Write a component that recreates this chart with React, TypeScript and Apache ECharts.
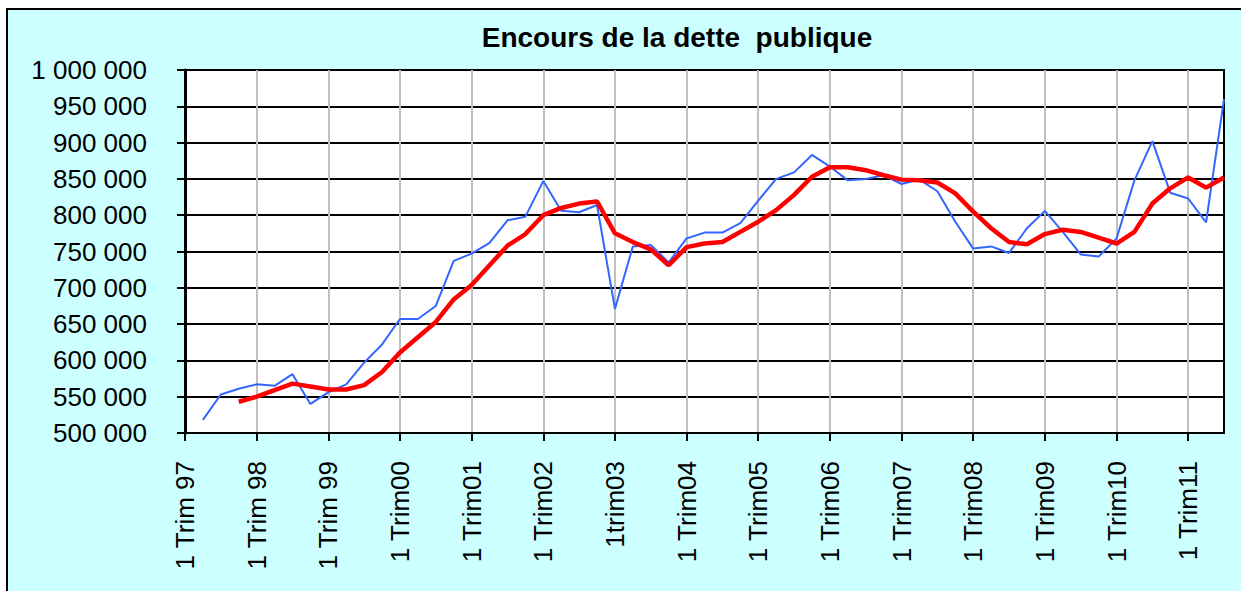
import React, { useEffect, useRef } from "react";
import * as echarts from "echarts";

const TITLE = "Encours de la dette  publique";

const categories: string[] = [
  "1 Trim 97", "2 Trim 97", "3 Trim 97", "4 Trim 97",
  "1 Trim 98", "2 Trim 98", "3 Trim 98", "4 Trim 98",
  "1 Trim 99", "2 Trim 99", "3 Trim 99", "4 Trim 99",
  "1 Trim00", "2 Trim00", "3 Trim00", "4 Trim00",
  "1 Trim01", "2 Trim01", "3 Trim01", "4 Trim01",
  "1 Trim02", "2 Trim02", "3 Trim02", "4 Trim02",
  "1trim03", "2trim03", "3trim03", "4trim03",
  "1 Trim04", "2 Trim04", "3 Trim04", "4 Trim04",
  "1 Trim05", "2 Trim05", "3 Trim05", "4 Trim05",
  "1 Trim06", "2 Trim06", "3 Trim06", "4 Trim06",
  "1 Trim07", "2 Trim07", "3 Trim07", "4 Trim07",
  "1 Trim08", "2 Trim08", "3 Trim08", "4 Trim08",
  "1 Trim09", "2 Trim09", "3 Trim09", "4 Trim09",
  "1 Trim10", "2 Trim10", "3 Trim10", "4 Trim10",
  "1 Trim11", "2 Trim11", "3 Trim11",
];

const encours: (number | null)[] = [
  null, 518000, 553000, 561000,
  567000, 565000, 581000, 540000,
  556000, 567000, 597000, 622000,
  657000, 657000, 675000, 737000,
  747000, 762000, 793000, 798000,
  847000, 806000, 804000, 814000,
  671000, 757000, 759000, 735000,
  768000, 776000, 776000, 789000,
  820000, 850000, 859000, 883000,
  867000, 848000, 850000, 855000,
  843000, 849000, 833000, 791000,
  754000, 757000, 748000, 782000,
  806000, 777000, 746000, 743000,
  768000, 848000, 902000, 831000,
  823000, 790000, 960000,
];

const moyenneMobile: (number | null)[] = [
  null, null, null, 543000,
  550000, 559000, 568000, 564000,
  560000, 560000, 566000, 584000,
  611000, 632000, 653000, 684000,
  704000, 731000, 758000, 774000,
  800000, 810000, 816000, 819000,
  775000, 763000, 753000, 731000,
  756000, 761000, 763000, 777000,
  791000, 807000, 828000, 853000,
  866000, 866000, 862000, 855000,
  849000, 848000, 845000, 830000,
  805000, 782000, 763000, 760000,
  774000, 780000, 777000, 769000,
  761000, 777000, 816000, 837000,
  852000, 838000, 852000,
];

const Y_MIN = 500000;
const Y_MAX = 1000000;
const Y_STEP = 50000;

const fmt = (v: number) => String(v).replace(/\B(?=(\d{3})+(?!\d))/g, " ");
const everyYear = (i: number) => i % 4 === 0;

export default function App() {
  const ref = useRef<HTMLDivElement>(null);
  useEffect(() => {
    if (!ref.current) return;
    const chart = echarts.init(ref.current, null, { renderer: "svg" });
    chart.setOption({
      animation: false,
      backgroundColor: "#ffffff",
      textStyle: { fontFamily: "Liberation Sans, Arial, sans-serif" },
      graphic: [
        {
          type: "rect",
          z: -10,
          silent: true,
          shape: { x: 7, y: 9, width: 1260, height: 620 },
          style: { fill: "#CCFFFF", stroke: "#000000", lineWidth: 2 },
        },
      ],
      title: {
        text: TITLE,
        left: 677,
        top: 23,
        padding: 0,
        textAlign: "center",
        textStyle: {
          fontFamily: "Liberation Sans, Arial, sans-serif",
          fontSize: 28,
          fontWeight: "bold",
          color: "#000000",
        },
      },
      grid: {
        left: 185,
        right: 17,
        top: 70,
        bottom: 158,
        show: true,
        backgroundColor: "#ffffff",
        borderColor: "#000000",
        borderWidth: 2,
      },
      xAxis: {
        type: "category",
        data: categories,
        boundaryGap: false,
        axisLine: { lineStyle: { color: "#000000", width: 2 } },
        axisTick: { show: true, length: 8, interval: everyYear, lineStyle: { color: "#000000", width: 2 } },
        axisLabel: {
          interval: everyYear,
          rotate: 90,
          margin: 28,
          color: "#000000",
          fontSize: 26,
          fontFamily: "Liberation Sans, Arial, sans-serif",
        },
        splitLine: { show: true, interval: everyYear, lineStyle: { color: "#C0C0C0", width: 2 } },
      },
      yAxis: {
        type: "value",
        min: Y_MIN,
        max: Y_MAX,
        interval: Y_STEP,
        axisLine: { show: true, lineStyle: { color: "#000000", width: 3 } },
        axisTick: { show: true, length: 8, lineStyle: { color: "#000000", width: 2 } },
        axisLabel: {
          formatter: (v: number) => fmt(v),
          margin: 38,
          color: "#000000",
          fontSize: 26,
          fontFamily: "Liberation Sans, Arial, sans-serif",
        },
        splitLine: { show: true, lineStyle: { color: "#000000", width: 2 } },
      },
      series: [
        {
          name: "Encours",
          type: "line",
          data: encours,
          showSymbol: false,
          symbol: "none",
          connectNulls: false,
          lineStyle: { color: "#3366FF", width: 2 },
          itemStyle: { color: "#3366FF" },
          z: 3,
        },
        {
          name: "Moyenne mobile",
          type: "line",
          data: moyenneMobile,
          showSymbol: false,
          symbol: "none",
          lineStyle: { color: "#FF0000", width: 4.5 },
          itemStyle: { color: "#FF0000" },
          z: 4,
        },
      ],
    });
    return () => chart.dispose();
  }, []);
  return (
    <div
      ref={ref}
      style={{ position: "fixed", left: 0, top: 0, width: 1241, height: 591 }}
    />
  );
}
